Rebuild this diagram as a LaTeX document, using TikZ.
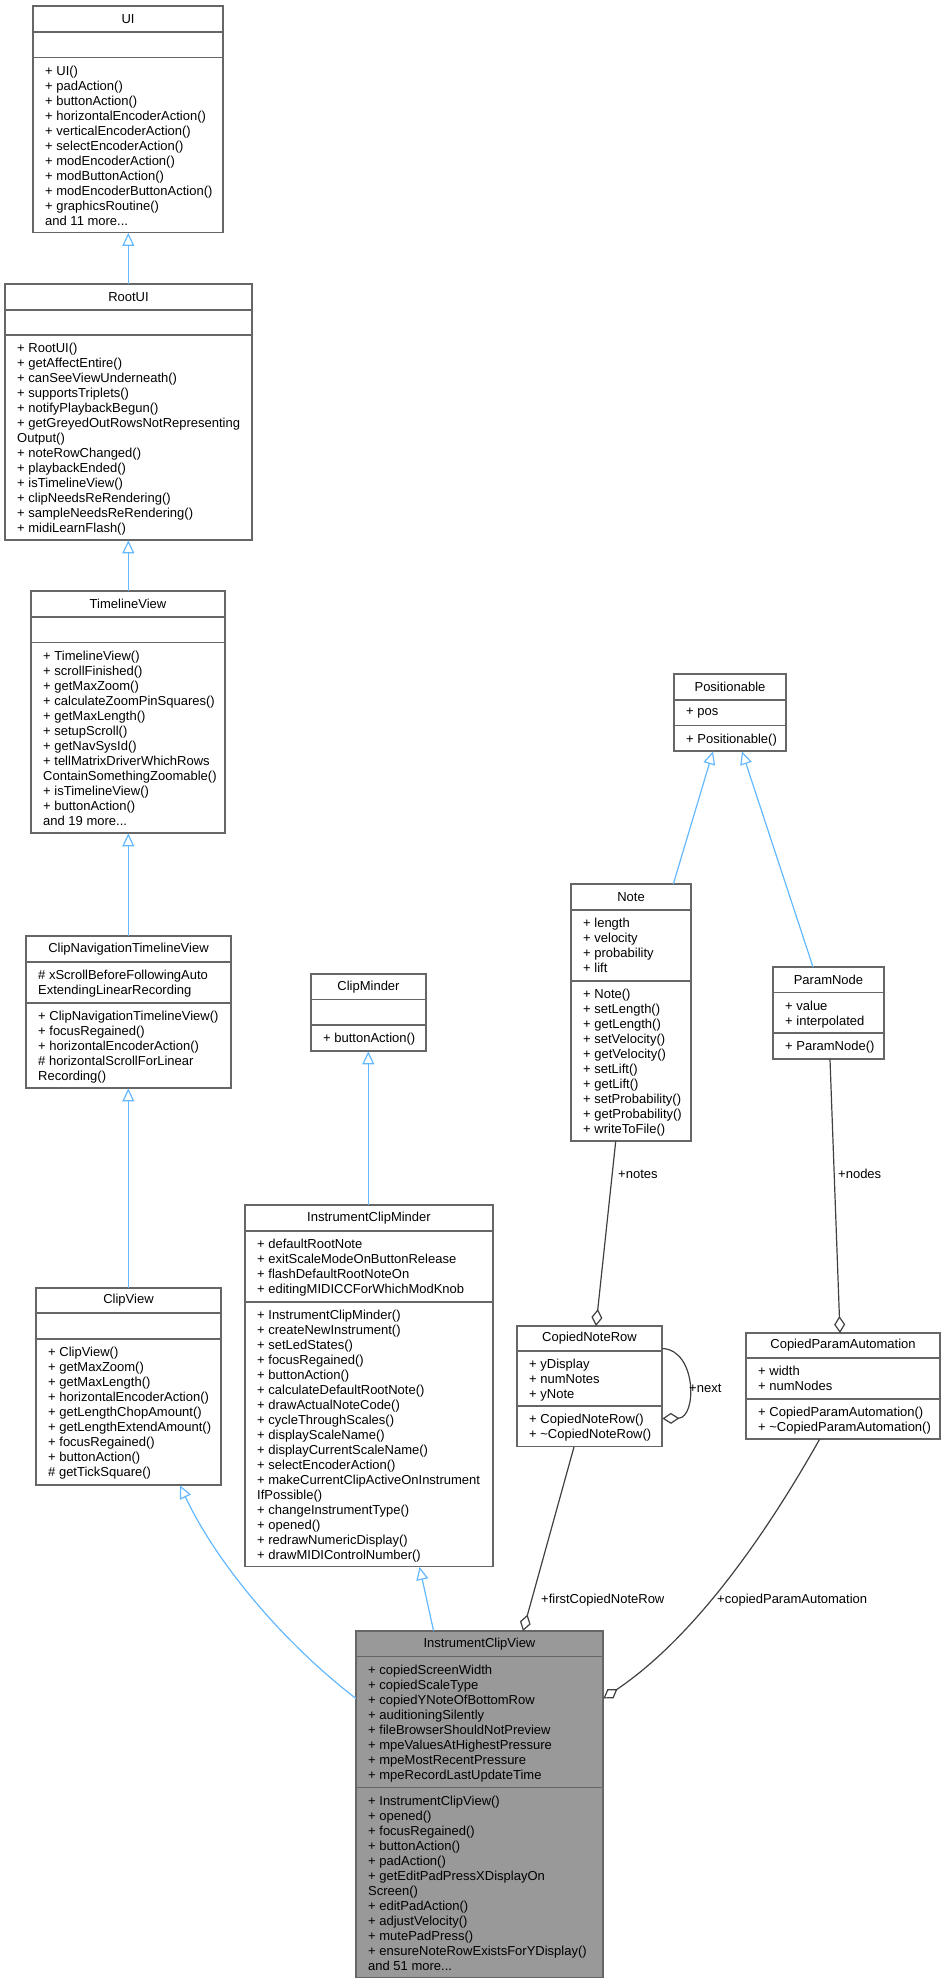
\documentclass[tikz,border=0pt]{standalone}
\usepackage{fontspec}
\setmainfont{Liberation Sans}
\usetikzlibrary{arrows.meta,calc}
\definecolor{inh}{RGB}{99,184,255}
\definecolor{agg}{RGB}{64,64,64}
\definecolor{bord}{RGB}{102,102,102}
\def\clsfill{white}
% name, x1, x2, y0, y1, y2, y3, title, attrs
\newcommand\cls[9]{%
  \draw[boxline,fill=\clsfill] (#2,#4) rectangle (#3,#7);
  \draw[boxline] (#2,#5)--(#3,#5) (#2,#6)--(#3,#6);
  \node[inner sep=0,minimum width={(#3-#2)*1pt},minimum height={(#7-#4)*1pt},anchor=north west] (#1) at (#2,#4) {};
  \node[ttl] at ({(#2+#3)/2},{(#4+#5)/2}) {#8};
  \node[mem] at ({#2+12},{#5+8}) {#9};
  \def\opsy{#6}\def\opsx{#2}}
\newcommand\ops[1]{\node[mem] at ({\opsx+12},{\opsy+8}) {#1};}
\tikzset{
  boxline/.style={draw=bord,line width=1.3pt},
  ttl/.style={font=\fontsize{13}{15}\selectfont,inner sep=0},
  mem/.style={font=\fontsize{13}{15}\selectfont,inner sep=0,anchor=north west,align=left},
  inhl/.style={draw=inh,line width=1.2pt,-{Triangle[open,length=13pt,width=12pt,fill=white]}},
  aggl/.style={draw=agg,line width=1.2pt,-{Diamond[open,length=17pt,width=11pt,fill=white]}},
  lbl/.style={font=\fontsize{13}{15}\selectfont,inner sep=0,anchor=west}
}
\begin{document}
\begin{tikzpicture}[x=1pt,y=-1pt]
\useasboundingbox (0,0) rectangle (946,1985);
\cls{UI}{33}{223}{6}{32}{57.5}{232.5}{UI}{}
\ops{+ UI()\\+ padAction()\\+ buttonAction()\\+ horizontalEncoderAction()\\+ verticalEncoderAction()\\+ selectEncoderAction()\\+ modEncoderAction()\\+ modButtonAction()\\+ modEncoderButtonAction()\\+ graphicsRoutine()\\and 11 more...}
\cls{RootUI}{5}{252}{284}{310}{335}{540}{RootUI}{}
\ops{+ RootUI()\\+ getAffectEntire()\\+ canSeeViewUnderneath()\\+ supportsTriplets()\\+ notifyPlaybackBegun()\\+ getGreyedOutRowsNotRepresenting\\Output()\\+ noteRowChanged()\\+ playbackEnded()\\+ isTimelineView()\\+ clipNeedsReRendering()\\+ sampleNeedsReRendering()\\+ midiLearnFlash()}
\cls{TV}{31}{225}{591}{617}{642.5}{833}{TimelineView}{}
\ops{+ TimelineView()\\+ scrollFinished()\\+ getMaxZoom()\\+ calculateZoomPinSquares()\\+ getMaxLength()\\+ setupScroll()\\+ getNavSysId()\\+ tellMatrixDriverWhichRows\\ContainSomethingZoomable()\\+ isTimelineView()\\+ buttonAction()\\and 19 more...}
\cls{CNTV}{26}{231}{936}{962}{1003}{1088}{ClipNavigationTimelineView}{\# xScrollBeforeFollowingAuto\\ExtendingLinearRecording}
\ops{+ ClipNavigationTimelineView()\\+ focusRegained()\\+ horizontalEncoderAction()\\\# horizontalScrollForLinear\\Recording()}
\cls{CV}{36}{221}{1288}{1313}{1339}{1485}{ClipView}{}
\ops{+ ClipView()\\+ getMaxZoom()\\+ getMaxLength()\\+ horizontalEncoderAction()\\+ getLengthChopAmount()\\+ getLengthExtendAmount()\\+ focusRegained()\\+ buttonAction()\\\# getTickSquare()}
\cls{CM}{311}{426}{974}{999.5}{1025}{1051}{ClipMinder}{}
\ops{+ buttonAction()}
\cls{ICM}{245}{493}{1205}{1231}{1302}{1566.5}{InstrumentClipMinder}{+ defaultRootNote\\+ exitScaleModeOnButtonRelease\\+ flashDefaultRootNoteOn\\+ editingMIDICCForWhichModKnob}
\ops{+ InstrumentClipMinder()\\+ createNewInstrument()\\+ setLedStates()\\+ focusRegained()\\+ buttonAction()\\+ calculateDefaultRootNote()\\+ drawActualNoteCode()\\+ cycleThroughScales()\\+ displayScaleName()\\+ displayCurrentScaleName()\\+ selectEncoderAction()\\+ makeCurrentClipActiveOnInstrument\\IfPossible()\\+ changeInstrumentType()\\+ opened()\\+ redrawNumericDisplay()\\+ drawMIDIControlNumber()}
\cls{Pos}{674}{786}{674}{700}{725.5}{751}{Positionable}{+ pos}
\ops{+ Positionable()}
\cls{Note}{571}{691}{884}{910}{981}{1141}{Note}{+ length\\+ velocity\\+ probability\\+ lift}
\ops{+ Note()\\+ setLength()\\+ getLength()\\+ setVelocity()\\+ getVelocity()\\+ setLift()\\+ getLift()\\+ setProbability()\\+ getProbability()\\+ writeToFile()}
\cls{PN}{773}{884}{967}{992.5}{1033}{1059}{ParamNode}{+ value\\+ interpolated}
\ops{+ ParamNode()}
\cls{CNR}{517}{662}{1326}{1351}{1406}{1446.5}{CopiedNoteRow}{+ yDisplay\\+ numNotes\\+ yNote}
\ops{+ CopiedNoteRow()\\+ \textasciitilde CopiedNoteRow()}
\cls{CPA}{746}{940}{1333}{1358}{1399}{1439}{CopiedParamAutomation}{+ width\\+ numNodes}
\ops{+ CopiedParamAutomation()\\+ \textasciitilde CopiedParamAutomation()}
\def\clsfill{black!40}
\cls{ICV}{356}{603}{1631}{1656.5}{1787.5}{1977.5}{InstrumentClipView}{+ copiedScreenWidth\\+ copiedScaleType\\+ copiedYNoteOfBottomRow\\+ auditioningSilently\\+ fileBrowserShouldNotPreview\\+ mpeValuesAtHighestPressure\\+ mpeMostRecentPressure\\+ mpeRecordLastUpdateTime}
\ops{+ InstrumentClipView()\\+ opened()\\+ focusRegained()\\+ buttonAction()\\+ padAction()\\+ getEditPadPressXDisplayOn\\Screen()\\+ editPadAction()\\+ adjustVelocity()\\+ mutePadPress()\\+ ensureNoteRowExistsForYDisplay()\\and 51 more...}
% inheritance
\draw[inhl] (RootUI.north -| 128.3,0) -- (UI.south -| 128.3,0);
\draw[inhl] (TV.north -| 128.3,0) -- (RootUI.south -| 128.3,0);
\draw[inhl] (CNTV.north -| 128.3,0) -- (TV.south -| 128.3,0);
\draw[inhl] (CV.north -| 128.3,0) -- (CNTV.south -| 128.3,0);
\draw[inhl] (ICM.north -| 368.3,0) -- (CM.south -| 368.3,0);
\draw[inhl] (ICV.north -| 433.6,0) -- (ICM.south -| 419.5,0);
\draw[inhl] (ICV.west |- 0,1698.5) .. controls (280,1640) and (215,1560) .. (CV.south -| 180,0);
\draw[inhl] (Note.north -| 673.3,0) -- (Pos.south -| 713,0);
\draw[inhl] (PN.north -| 813,0) -- (Pos.south -| 742,0);
% aggregation
\draw[aggl] (Note.south -| 615.7,0) -- (CNR.north -| 596,0);
\draw[aggl] (PN.south -| 830,0) -- (CPA.north -| 840,0);
\draw[aggl] (CNR.south -| 574,0) -- (ICV.north -| 523,0);
\draw[aggl] (CPA.south -| 819.5,0) .. controls (760,1545) and (690,1640) .. (ICV.east |- 0,1698.5);
\draw[aggl] (CNR.east |- 0,1348.5) .. controls (697,1350) and (697,1418) .. (CNR.east |- 0,1418.5);
\node[lbl] (l1) at (618,1174) {+notes};
\node[lbl] (l2) at (838,1174) {+nodes};
\node[lbl] (l3) at (689,1388) {+next};
\node[lbl] (l4) at (541,1600) {+firstCopiedNoteRow};
\node[lbl] (l5) at (717,1600) {+copiedParamAutomation};
\end{tikzpicture}
\end{document}
